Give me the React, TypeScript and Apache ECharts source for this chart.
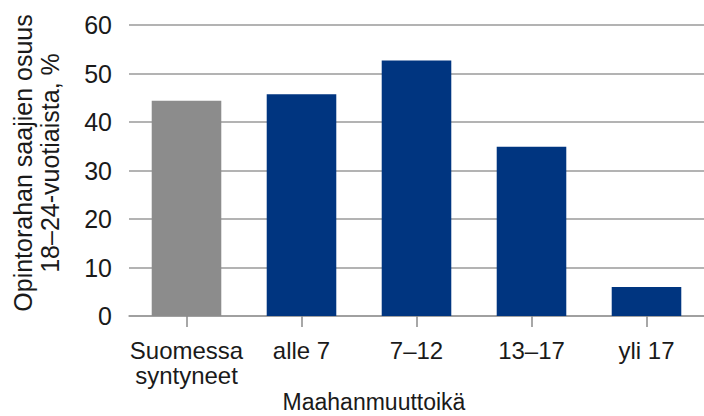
import React, { useEffect, useRef } from "react";
import * as echarts from "echarts";

const categories = ["Suomessa\nsyntyneet", "alle 7", "7–12", "13–17", "yli 17"];
const values = [44.4, 45.7, 52.7, 34.9, 6.0];
const barColors = ["#8c8c8c", "#003580", "#003580", "#003580", "#003580"];
const yTicks = { min: 0, max: 60, interval: 10 };
const yTitle = "Opintorahan saajien osuus\n18–24-vuotiaista, %";
const xTitle = "Maahanmuuttoikä";

const FONT = "Liberation Sans, Arial, sans-serif";

export default function App() {
  const ref = useRef<HTMLDivElement>(null);
  useEffect(() => {
    if (!ref.current) return;
    const chart = echarts.init(ref.current, undefined, { renderer: "svg" });
    chart.setOption({
      animation: false,
      backgroundColor: "#ffffff",
      grid: { left: 129, right: -3, top: 25, bottom: 100, containLabel: false },
      xAxis: {
        type: "category",
        data: categories,
        axisLine: { show: true, lineStyle: { color: "#9a9a9a", width: 1.5 } },
        axisTick: { show: true, alignWithLabel: true, length: 11, lineStyle: { color: "#8a8a8a", width: 1.5 } },
        axisLabel: {
          color: "#1a1a1a",
          fontFamily: FONT,
          fontSize: 24,
          lineHeight: 25,
          margin: 22,
          interval: 0,
        },
      },
      yAxis: {
        type: "value",
        min: yTicks.min,
        max: yTicks.max,
        interval: yTicks.interval,
        axisLine: { show: false },
        axisTick: { show: false },
        axisLabel: { color: "#1a1a1a", fontFamily: FONT, fontSize: 25, margin: 17 },
        splitLine: { show: true, lineStyle: { color: "#9a9a9a", width: 1.5 } },
      },
      graphic: [
        {
          type: "text",
          x: 36,
          y: 163,
          rotation: Math.PI / 2,
          style: {
            text: yTitle,
            fontFamily: FONT,
            fontSize: 25,
            lineHeight: 27,
            fill: "#1a1a1a",
            align: "center",
            verticalAlign: "middle",
          },
        },
        {
          type: "text",
          x: 374,
          y: 402,
          style: {
            text: xTitle,
            fontFamily: FONT,
            fontSize: 23,
            fill: "#1a1a1a",
            align: "center",
            verticalAlign: "middle",
          },
        },
      ],
      series: [
        {
          type: "bar",
          data: values.map((v, i) => ({ value: v, itemStyle: { color: barColors[i] } })),
          barWidth: "60.5%",
        },
      ],
    });
    return () => chart.dispose();
  }, []);
  return <div ref={ref} style={{ width: 704, height: 416, position: "absolute", left: 0, top: 0 }} />;
}
